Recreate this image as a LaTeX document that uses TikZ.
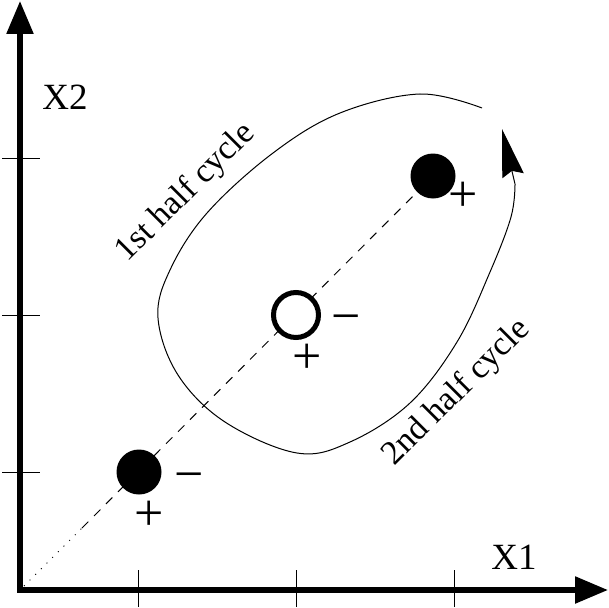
\documentclass[tikz,border=0pt]{standalone}
\usepackage{fontspec}
\setmainfont{Liberation Serif}
\usetikzlibrary{arrows.meta}
\tikzset{
  axis/.style={line width=5.5pt, line join=miter, {Triangle[length=33pt,width=26pt]}-{Triangle[length=33pt,width=26pt]}},
  tickmark/.style={line width=1pt},
  diag/.style={line width=1pt},
  cyc/.style={line width=1pt},
  cycarrow/.style={line width=1pt, -{Stealth[length=48pt,width=22pt,inset=5pt]}},
  fullball/.style={circle, fill=black, inner sep=0pt, minimum size=45pt},
  openball/.style={circle, draw=black, fill=white, line width=5pt, inner sep=0pt, minimum size=45pt},
  sign/.style={anchor=base, inner sep=0pt, font=\fontsize{52}{56}\selectfont},
  axlabel/.style={anchor=base, inner sep=0pt, font=\fontsize{37}{42}\selectfont},
  cyclabel/.style={inner sep=0pt, rotate=45, font=\fontsize{34}{38}\selectfont}
}
\begin{document}
\begin{tikzpicture}[x=1pt,y=-1pt]
\useasboundingbox (0,0) rectangle (609,607);
% coordinates
\coordinate (o) at (20,590);
\coordinate (ytop) at (20,1);
\coordinate (xend) at (608,590);
\coordinate (c1) at (139,472);
\coordinate (c2) at (296,315);
\coordinate (c3) at (433,176);
\coordinate (d0) at (24,586);
\coordinate (dm) at (82,528);
\coordinate (cs) at (515,184);
\coordinate (ct) at (502,129);
% ticks
\draw[tickmark] (2,158) -- (40,158);
\draw[tickmark] (2,315) -- (40,315);
\draw[tickmark] (2,472) -- (40,472);
\draw[tickmark] (138,570) -- (138,607);
\draw[tickmark] (296,570) -- (296,607);
\draw[tickmark] (454,570) -- (454,607);
% diagonal
\draw[diag, dash pattern=on 1pt off 7pt] (d0) -- (dm);
\draw[diag, dash pattern=on 9pt off 8pt] (dm) -- (c3);
% axes
\draw[axis] (ytop) -- (o) -- (xend);
% cycle curve
\draw[cyc] plot[smooth, tension=0.6] coordinates {
 (482,108) (420,94) (340,113) (273,153) (207,213) (170,270)
 (158,318) (178,375) (225,422) (297,453) (350,442) (410,403) (457,342)
 (490,272) (511,217) (515,184)};
\draw[cycarrow] (cs) -- (ct);
% balls
\node[fullball] (b1) at (c1) {};
\node[openball] (b2) at (c2) {};
\node[fullball] (b3) at (c3) {};
% signs
\node[sign] (m1) at (189,491) {−};
\node[sign] (p1) at (149,530) {+};
\node[sign] (m2) at (346,333) {−};
\node[sign] (p2) at (307,373) {+};
\node[sign] (p3) at (463,211) {+};
% labels
\node[axlabel] (lx2) at (65,110) {X2};
\node[axlabel] (lx1) at (514,569) {X1};
\node[cyclabel] (l1) at (186,193) {1st half cycle};
\node[cyclabel] (l2) at (457,393) {2nd half cycle};
\end{tikzpicture}
\end{document}
